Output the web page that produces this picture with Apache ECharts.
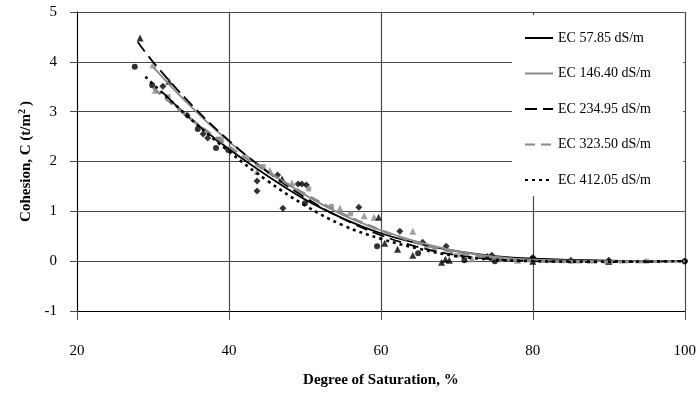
<!DOCTYPE html>
<html>
<head>
<meta charset="utf-8">
<script src="https://cdn.jsdelivr.net/npm/echarts@6/dist/echarts.min.js"></script>
<style>
  html, body { margin: 0; padding: 0; background: #fff; }
  #chart { width: 699px; height: 396px; }
</style>
</head>
<body>
<div id="chart"></div>
<script>
// Legend labels, one per salinity level (electrical conductivity)
const seriesNames = ['EC 57.85 dS/m', 'EC 146.40 dS/m', 'EC 234.95 dS/m', 'EC 323.50 dS/m', 'EC 412.05 dS/m'];

// Axis ticks
const xTicks = [20, 40, 60, 80, 100];
const yTicks = [-1, 0, 1, 2, 3, 4, 5];

// Measured cohesion [degree of saturation %, C t/m2]
const obs57 = [[31.3, 3.51], [34.5, 2.93], [36.6, 2.55], [37.2, 2.47], [38.6, 2.43], [43.7, 1.61], [43.7, 1.41],
  [46.4, 1.73], [47.1, 1.06], [49.1, 1.55], [49.6, 1.55], [50.2, 1.53], [57.1, 1.08], [62.5, 0.6],
  [65.5, 0.38], [68.6, 0.3], [74.6, 0.12], [80, 0.07], [85, 0.02], [90, 0.02], [100, 0.0]];
const obs146 = [[30, 3.94], [30.3, 3.43], [43.7, 1.8], [45.4, 1.82], [48.3, 1.57], [54.6, 1.06], [57.8, 0.91],
  [59.1, 0.88], [64.2, 0.6], [67, 0.25], [72, 0.05], [78, 0.02], [90, 0.0]];
const obs234 = [[28.3, 4.48], [32.1, 3.61], [47, 1.65], [59.7, 0.88], [60.5, 0.36], [62.2, 0.24], [64.2, 0.12],
  [68, -0.02], [68.5, 0.04], [69, 0.02], [74, 0.1], [80, 0.0], [90, 0.0]];
const obs323 = [[32, 3.3], [39, 2.45], [44.5, 1.9], [50.5, 1.45], [53.5, 1.1], [56, 0.95], [66, 0.3],
  [70, 0.12], [76, 0.03], [85, 0.0], [95, 0.0]];
const obs412 = [[27.6, 3.9], [29.9, 3.53], [35.9, 2.65], [38.3, 2.27], [39.9, 2.23], [50, 1.16], [59.5, 0.3],
  [64.9, 0.16], [71, 0.02], [75, 0.0], [80, 0.06], [100, 0.0]];

// Trend curves [degree of saturation %, C t/m2]
const fit57 = [[31.3, 3.38], [35, 2.85], [40, 2.25], [45, 1.72], [50, 1.24], [55, 0.86], [60, 0.56], [65, 0.35],
  [70, 0.2], [75, 0.1], [80, 0.05], [90, 0.01], [100, 0.0]];
const fit146 = [[30, 3.9], [35, 3.1], [40, 2.4], [45, 1.82], [50, 1.33], [55, 0.93], [60, 0.62], [65, 0.38],
  [70, 0.2], [75, 0.09], [80, 0.03], [90, 0.0], [100, 0.0]];
const fit234 = [[28, 4.4], [30, 4.0], [35, 3.15], [40, 2.42], [45, 1.8], [50, 1.28], [55, 0.85], [60, 0.52],
  [65, 0.28], [70, 0.12], [75, 0.04], [80, 0.0], [90, -0.02], [100, 0.0]];
const fit323 = [[30, 3.48], [35, 2.85], [40, 2.3], [45, 1.8], [50, 1.35], [55, 0.95], [60, 0.62], [65, 0.36],
  [70, 0.17], [75, 0.06], [80, 0.0], [90, -0.02], [100, 0.0]];
const fit412 = [[29, 3.7], [35, 2.85], [40, 2.2], [45, 1.62], [50, 1.12], [55, 0.72], [60, 0.45], [65, 0.25],
  [70, 0.1], [75, 0.03], [80, 0.0], [90, -0.01], [100, 0.0]];

const BLACK = '#000000';
const GRAY = '#8a8a8a';
const GRID = '#4a4a4a';
const FONT = '"Liberation Serif", "Times New Roman", serif';

function curve(name, data, color, width, type) {
  return {
    name: name, type: 'line', data: data, smooth: 0.4, symbol: 'none', z: 3,
    lineStyle: { color: color, width: width, type: type },
    itemStyle: { color: color, opacity: 0 }
  };
}
function points(data, symbol, color, size) {
  return {
    type: 'scatter', data: data, symbol: symbol, symbolSize: size, z: 2,
    itemStyle: { color: color }, silent: true
  };
}

const chart = echarts.init(document.getElementById('chart'), null, { renderer: 'canvas' });
chart.setOption({
  animation: false,
  backgroundColor: '#fff',
  textStyle: { fontFamily: FONT },
  grid: { left: 77, right: 14, top: 12, bottom: 85, containLabel: false },
  xAxis: {
    type: 'value', min: xTicks[0], max: xTicks[xTicks.length - 1], interval: 20,
    name: 'Degree of Saturation, %', nameLocation: 'middle', nameGap: 62,
    nameTextStyle: { fontFamily: FONT, fontSize: 15, fontWeight: 'bold', color: '#000' },
    axisLine: { onZero: false, lineStyle: { color: '#000', width: 1 } },
    axisTick: { show: true, inside: false, length: 9, lineStyle: { color: GRID } },
    axisLabel: { fontFamily: FONT, fontSize: 15, color: '#000', margin: 33 },
    splitLine: { show: true, lineStyle: { color: GRID, width: 1.2 } }
  },
  yAxis: {
    type: 'value', min: yTicks[0], max: yTicks[yTicks.length - 1], interval: 1,
    name: 'Cohesion, C (t/m{sup|2}\u2009)', nameLocation: 'middle', nameGap: 36,
    nameTextStyle: {
      fontFamily: FONT, fontSize: 15, fontWeight: 'bold', color: '#000',
      rich: { sup: { fontFamily: FONT, fontSize: 10, fontWeight: 'bold', color: '#000', verticalAlign: 'top', lineHeight: 18 } }
    },
    axisLine: { show: true, lineStyle: { color: '#000', width: 1 } },
    axisTick: { show: true, inside: false, length: 7, lineStyle: { color: GRID } },
    axisLabel: { fontFamily: FONT, fontSize: 15, color: '#000', margin: 20 },
    splitLine: { show: true, lineStyle: { color: GRID, width: 1.2 } }
  },
  legend: {
    data: seriesNames, orient: 'vertical', left: 512, top: 16,
    padding: [15, 10, 8, 12], itemWidth: 28, itemHeight: 14, itemGap: 21.5,
    itemStyle: { opacity: 0 },
    textStyle: { fontFamily: FONT, fontSize: 14, color: '#000' }, z: 5
  },
  graphic: [{
    type: 'rect', z: 4, silent: true,
    shape: { x: 512, y: 15, width: 171, height: 181 },
    style: { fill: '#fff' }
  }],
  series: [
    points(obs57, 'diamond', BLACK, 7),
    points(obs146, 'triangle', GRAY, 7),
    points(obs234, 'triangle', BLACK, 7),
    points(obs323, 'rect', GRAY, 5),
    points(obs412, 'circle', BLACK, 6),
    curve(seriesNames[0], fit57, BLACK, 1.8, 'solid'),
    curve(seriesNames[1], fit146, GRAY, 1.8, 'solid'),
    curve(seriesNames[2], fit234, BLACK, 1.8, [12, 6]),
    curve(seriesNames[3], fit323, GRAY, 2.6, [10, 6]),
    curve(seriesNames[4], fit412, BLACK, 2.6, [3, 4])
  ]
});
</script>
</body>
</html>
